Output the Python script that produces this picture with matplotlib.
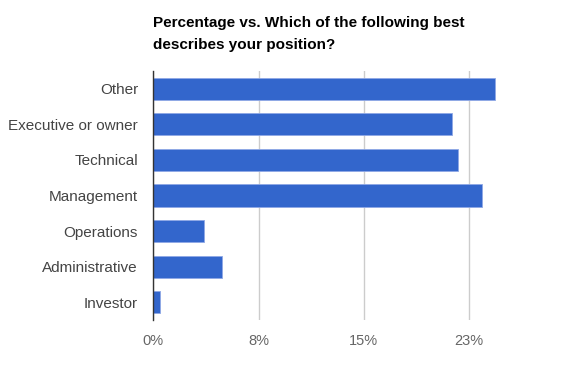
import matplotlib.pyplot as plt

categories = ['Other', 'Executive or owner', 'Technical', 'Management',
              'Operations', 'Administrative', 'Investor']
percentages = [24.85, 21.77, 22.16, 23.9, 3.7, 5.03, 0.51]
tick_values = [0, 23 / 3, 46 / 3, 23]
tick_labels = ['0%', '8%', '15%', '23%']

plt.rcParams['font.family'] = ['Liberation Sans', 'DejaVu Sans']

fig = plt.figure(figsize=(5.71, 3.69), dpi=100)
ax = fig.add_axes([0.2685, 0.1328, 0.6422, 0.6748])

y = list(range(len(categories)))
ax.barh(y, percentages, height=0.62, color='#3366cc', edgecolor='#8fa8e6',
        linewidth=0.6, zorder=3)

ax.set_ylim(len(categories) - 0.5, -0.5)
ax.set_xlim(0, 26.7)
ax.set_yticks(y)
ax.set_yticklabels(categories, fontsize=11, color='#444444')
ax.set_xticks(tick_values)
ax.set_xticklabels(tick_labels, fontsize=10.5, color='#666666')
ax.tick_params(length=0, pad=10)
ax.tick_params(axis='y', pad=11)

ax.grid(axis='x', color='#cccccc', linewidth=1, zorder=0)
for s in ['top', 'right', 'bottom']:
    ax.spines[s].set_visible(False)
ax.spines['left'].set_color('#333333')
ax.spines['left'].set_linewidth(1)
ax.spines['left'].set_zorder(4)

fig.text(0.268, 0.957, 'Percentage vs. Which of the following best\ndescribes your position?',
         fontsize=11, fontweight='bold', color='#000000', ha='left', va='top',
         linespacing=1.75)

fig.savefig('out.png', dpi=100, facecolor='white')
